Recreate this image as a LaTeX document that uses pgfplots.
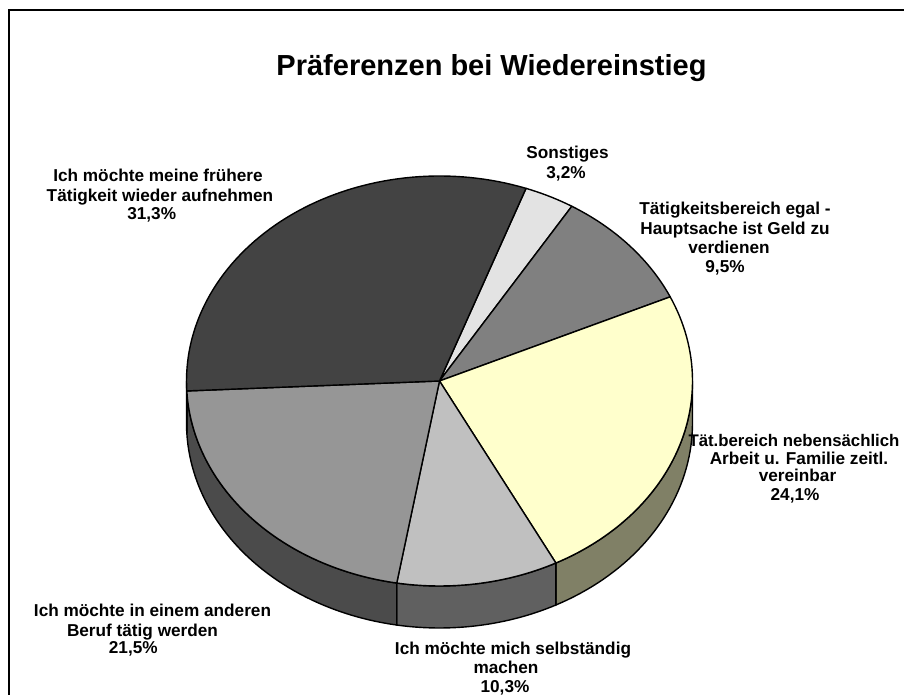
\documentclass[border=0pt]{standalone}
\usepackage{fontspec}
\setmainfont{Liberation Sans}
\usepackage{pgfplots}
\pgfplotsset{compat=1.18}
\usepgfplotslibrary{fillbetween}
\definecolor{topA}{HTML}{E3E3E3}
\definecolor{topB}{HTML}{808080}
\definecolor{topC}{HTML}{FFFFCC}
\definecolor{sideC}{HTML}{808066}
\definecolor{topD}{HTML}{C0C0C0}
\definecolor{sideD}{HTML}{606060}
\definecolor{topE}{HTML}{969696}
\definecolor{sideE}{HTML}{4B4B4B}
\definecolor{topF}{HTML}{434343}
\definecolor{sideF}{HTML}{222222}
\begin{document}
\begin{tikzpicture}[x=1pt,y=1pt]
% values (percent), clockwise from the top
\def\vA{3.2}  % Sonstiges
\def\vB{9.5}  % Taetigkeitsbereich egal
\def\vC{24.1} % Taet.bereich nebensaechlich
\def\vD{10.3} % selbstaendig
\def\vE{21.5} % anderer Beruf
\def\vF{31.3} % fruehere Taetigkeit
\pgfmathsetmacro\tot{\vA+\vB+\vC+\vD+\vE+\vF}
\pgfmathsetmacro\aO{70}
\pgfmathsetmacro\aA{\aO-\vA/\tot*360}
\pgfmathsetmacro\aB{\aA-\vB/\tot*360}
\pgfmathsetmacro\aC{\aB-\vC/\tot*360}
\pgfmathsetmacro\aD{\aC-\vD/\tot*360}
\pgfmathsetmacro\aE{\aD-\vE/\tot*360}
\pgfmathsetmacro\aF{\aE-\vF/\tot*360}
\def\cx{439.5}\def\cy{314}\def\rx{253}\def\ry{205}\def\dd{42}
\begin{axis}[at={(0,0)},anchor=south west,width=904pt,height=695pt,
  scale only axis,xmin=0,xmax=904,ymin=0,ymax=695,hide axis,clip=false,
  every axis plot/.append style={line width=1.4pt,line join=round}]
% sides
\addplot[name path=tC,draw=none,domain=\aC:0,samples=40,variable=\t]({\cx+\rx*cos(\t)},{\cy+\ry*sin(\t)});
\addplot[name path=bC,draw=none,domain=\aC:0,samples=40,variable=\t]({\cx+\rx*cos(\t)},{\cy-\dd+\ry*sin(\t)});
\addplot[fill=sideC,draw=black,line width=1.4pt] fill between[of=tC and bC];
\addplot[name path=tD,draw=none,domain=\aD:\aC,samples=30,variable=\t]({\cx+\rx*cos(\t)},{\cy+\ry*sin(\t)});
\addplot[name path=bD,draw=none,domain=\aD:\aC,samples=30,variable=\t]({\cx+\rx*cos(\t)},{\cy-\dd+\ry*sin(\t)});
\addplot[fill=sideD,draw=black,line width=1.4pt] fill between[of=tD and bD];
\addplot[name path=tE,draw=none,domain=\aE:\aD,samples=50,variable=\t]({\cx+\rx*cos(\t)},{\cy+\ry*sin(\t)});
\addplot[name path=bE,draw=none,domain=\aE:\aD,samples=50,variable=\t]({\cx+\rx*cos(\t)},{\cy-\dd+\ry*sin(\t)});
\addplot[fill=sideE,draw=black,line width=1.4pt] fill between[of=tE and bE];
\addplot[name path=tF,draw=none,domain=-180:\aE,samples=5,variable=\t]({\cx+\rx*cos(\t)},{\cy+\ry*sin(\t)});
\addplot[name path=bF,draw=none,domain=-180:\aE,samples=5,variable=\t]({\cx+\rx*cos(\t)},{\cy-\dd+\ry*sin(\t)});
\addplot[fill=sideF,draw=black,line width=1.4pt] fill between[of=tF and bF];
% top faces
\addplot[fill=topA,draw=black,domain=\aA:\aO,samples=10,variable=\t]({\cx+\rx*cos(\t)},{\cy+\ry*sin(\t)}) -- (axis cs:\cx,\cy) -- cycle;
\addplot[fill=topB,draw=black,domain=\aB:\aA,samples=25,variable=\t]({\cx+\rx*cos(\t)},{\cy+\ry*sin(\t)}) -- (axis cs:\cx,\cy) -- cycle;
\addplot[fill=topC,draw=black,domain=\aC:\aB,samples=60,variable=\t]({\cx+\rx*cos(\t)},{\cy+\ry*sin(\t)}) -- (axis cs:\cx,\cy) -- cycle;
\addplot[fill=topD,draw=black,domain=\aD:\aC,samples=30,variable=\t]({\cx+\rx*cos(\t)},{\cy+\ry*sin(\t)}) -- (axis cs:\cx,\cy) -- cycle;
\addplot[fill=topE,draw=black,domain=\aE:\aD,samples=50,variable=\t]({\cx+\rx*cos(\t)},{\cy+\ry*sin(\t)}) -- (axis cs:\cx,\cy) -- cycle;
\addplot[fill=topF,draw=black,domain=\aF:\aE,samples=70,variable=\t]({\cx+\rx*cos(\t)},{\cy+\ry*sin(\t)}) -- (axis cs:\cx,\cy) -- cycle;
% title
\node[anchor=base,font=\fontsize{29}{34}\selectfont\bfseries] at (axis cs:491.5,619) {Präferenzen bei Wiedereinstieg};
% labels
\tikzset{lb/.style={anchor=base,inner sep=0pt,font=\fontsize{17.2}{20}\selectfont\bfseries}}
\node[lb] at (axis cs:158,513.3) {Ich möchte meine frühere};
\node[lb] at (axis cs:160,493.3) {Tätigkeit wieder aufnehmen};
\node[lb] at (axis cs:151.7,475) {31,3\%};
\node[lb] at (axis cs:567.5,536.7) {Sonstiges};
\node[lb] at (axis cs:566,516.7) {3,2\%};
\node[lb] at (axis cs:735,480) {Tätigkeitsbereich egal -};
\node[lb] at (axis cs:735,460) {Hauptsache ist Geld zu};
\node[lb] at (axis cs:729,441.7) {verdienen};
\node[lb] at (axis cs:725,422.3) {9,5\%};
\node[lb,font=\fontsize{16.8}{20}\selectfont\bfseries] at (axis cs:794,248.3) {Tät.bereich nebensächlich};
\node[lb] at (axis cs:799,230) {Arbeit u. Familie zeitl.};
\node[lb] at (axis cs:797.5,213.3) {vereinbar};
\node[lb] at (axis cs:795,194) {24,1\%};
\node[lb] at (axis cs:513,40) {Ich möchte mich selbständig};
\node[lb] at (axis cs:506,21.7) {machen};
\node[lb] at (axis cs:505,2.3) {10,3\%};
\node[lb] at (axis cs:152.5,78.3) {Ich möchte in einem anderen};
\node[lb] at (axis cs:142.5,58.3) {Beruf tätig werden};
\node[lb] at (axis cs:133.3,41) {21,5\%};
\end{axis}
\pgfresetboundingbox
\useasboundingbox (0,0) rectangle (904,695);
\begin{scope}
\clip (0,0) rectangle (904,695);
\draw[line width=2.5pt] (9,685) rectangle (1000,-100);
\end{scope}
\end{tikzpicture}
\end{document}
